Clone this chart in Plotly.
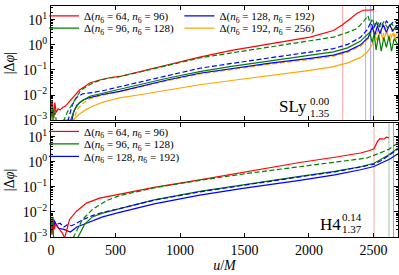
import plotly.graph_objects as go

# ---------------- data ----------------
# top panel: SLy  (|Δφ| versus u/M)
u_r1 = [0, 10, 20, 30, 40, 55, 70, 90, 110, 144, 182, 221, 260, 300, 377, 455, 532, 700, 900, 1153, 1400, 1700, 2008, 2190, 2260, 2318, 2370, 2419, 2450, 2500]
v_r1 = [3.16e-3, 6.31e-3, 1.26e-3, 5.01e-3, 2.0e-3, 2.82e-3, 2.51e-3, 3.16e-3, 3.55e-3, 5.62e-3, 8.71e-3, 1.58e-2, 2.14e-2, 3.02e-2, 3.98e-2, 4.9e-2, 5.5e-2, 8.9e-2, 0.158, 0.324, 0.603, 1.12, 2.04, 3.72, 6.31, 10.7, 17.8, 24.0, 25.0, 25.0]

u_g1d = [0, 10, 20, 30, 45, 100, 130, 160, 190, 230, 270, 320, 380, 450, 532, 700, 900, 1153, 1400, 1700, 2008, 2190, 2300, 2372, 2420, 2457, 2475, 2492, 2510, 2530, 2555, 2580, 2610, 2640, 2670, 2690]
v_g1d = [1.58e-3, 3.98e-3, 1.26e-3, 2.51e-3, 6.3e-4, 1.0e-3, 2.24e-3, 3.98e-3, 7.94e-3, 1.51e-2, 2.09e-2, 2.95e-2, 3.89e-2, 4.79e-2, 5.37e-2, 8.71e-2, 0.151, 0.302, 0.479, 0.832, 1.45, 2.04, 3.16, 4.47, 8.32, 14.5, 7.08, 11.2, 5.25, 8.91, 5.01, 8.32, 4.79, 7.08, 4.17, 6.03]

u_g1 = [0, 10, 20, 150, 180, 220, 300, 400, 532, 700, 900, 1153, 1400, 1700, 2008, 2190, 2300, 2400, 2450, 2470, 2490, 2505, 2520, 2540, 2560, 2580, 2600, 2620, 2640, 2660, 2690]
v_g1 = [1.26e-3, 3.16e-3, 5.0e-4, 8.9e-4, 2.51e-3, 5.01e-3, 8.91e-3, 1.17e-2, 1.7e-2, 2.69e-2, 4.68e-2, 8.51e-2, 0.138, 0.229, 0.38, 0.525, 0.759, 1.41, 2.51, 3.16, 1.26, 2.82, 0.631, 2.51, 0.562, 2.0, 0.794, 2.24, 0.562, 1.78, 1.0]

u_b1d = [130, 144, 167, 198, 244, 322, 400, 532, 700, 900, 1153, 1400, 1700, 2008, 2190, 2300, 2400, 2450, 2480, 2500, 2520, 2540, 2560, 2580, 2600, 2630, 2660, 2690]
v_b1d = [8.9e-4, 1.74e-3, 4.27e-3, 7.94e-3, 1.12e-2, 1.26e-2, 1.48e-2, 2.14e-2, 3.39e-2, 6.03e-2, 0.117, 0.182, 0.302, 0.513, 0.708, 1.05, 2.0, 3.98, 7.94, 4.17, 8.91, 4.79, 8.32, 5.25, 8.91, 6.03, 8.91, 7.08]

u_b1 = [160, 175, 200, 250, 300, 400, 532, 700, 900, 1153, 1400, 1700, 2008, 2190, 2300, 2400, 2460, 2490, 2510, 2530, 2550, 2575, 2600, 2625, 2650, 2675, 2690]
v_b1 = [8.9e-4, 2.0e-3, 3.98e-3, 6.31e-3, 7.94e-3, 1.05e-2, 1.41e-2, 2.24e-2, 3.98e-2, 7.41e-2, 0.112, 0.186, 0.288, 0.389, 0.562, 1.0, 2.0, 5.01, 2.51, 5.62, 2.82, 6.31, 3.16, 6.31, 3.55, 5.62, 3.98]

u_o1d = [0, 10, 170, 200, 240, 300, 400, 532, 700, 900, 1153, 1400, 1700, 2008, 2190, 2300, 2400, 2470, 2500, 2520, 2545, 2570, 2595, 2620, 2645, 2670, 2690]
v_o1d = [1.58e-3, 6.3e-4, 7.9e-4, 2.51e-3, 4.47e-3, 7.08e-3, 1.0e-2, 1.35e-2, 2.14e-2, 3.72e-2, 6.92e-2, 0.105, 0.17, 0.263, 0.355, 0.501, 0.891, 2.0, 5.62, 2.24, 6.31, 2.0, 5.01, 1.78, 4.47, 2.0, 3.55]

u_o1 = [0, 8, 15, 25, 100, 170, 221, 275, 322, 400, 478, 532, 700, 900, 1153, 1400, 1700, 2008, 2190, 2300, 2400, 2450, 2490, 2510, 2530, 2550, 2575, 2600, 2625, 2650, 2675, 2690]
v_o1 = [2.0e-3, 1.0e-3, 2.51e-3, 6.3e-4, 1.02e-3, 1.02e-3, 1.74e-3, 2.69e-3, 3.55e-3, 5.13e-3, 6.61e-3, 7.76e-3, 1.05e-2, 1.58e-2, 2.57e-2, 3.8e-2, 5.89e-2, 9.55e-2, 0.135, 0.191, 0.316, 0.501, 1.0, 2.51, 1.41, 3.55, 1.58, 3.16, 1.41, 2.82, 1.58, 2.24]

# bottom panel: H4
u_r2 = [0, 8, 15, 25, 35, 50, 70, 90, 105, 125, 144, 198, 275, 377, 532, 800, 1153, 1500, 1929, 2200, 2400, 2470, 2504, 2530, 2550, 2580, 2600, 2620]
v_r2 = [3.98e-3, 1.26e-3, 6.31e-3, 2.0e-3, 3.16e-3, 2.51e-3, 2.0e-3, 1.41e-3, 8.9e-4, 2.51e-3, 5.01e-3, 1.07e-2, 2.24e-2, 3.55e-2, 5.01e-2, 9.55e-2, 0.191, 0.398, 0.933, 1.51, 2.24, 2.82, 3.31, 6.31, 8.32, 7.94, 9.55, 8.91]

u_g2d = [0, 10, 20, 170, 244, 322, 431, 532, 800, 1153, 1500, 1929, 2200, 2450, 2550, 2620, 2690]
v_g2d = [2.51e-3, 6.31e-3, 7.9e-4, 8.9e-4, 5.01e-3, 1.26e-2, 2.82e-2, 4.47e-2, 9.12e-2, 0.182, 0.331, 0.631, 0.955, 1.41, 2.24, 3.16, 5.62]

u_g2 = [0, 8, 16, 25, 200, 260, 320, 400, 532, 800, 1153, 1500, 1929, 2200, 2400, 2504, 2560, 2620, 2690]
v_g2 = [1.26e-3, 5.01e-3, 1.58e-3, 6.3e-4, 7.9e-4, 3.16e-3, 6.31e-3, 8.91e-3, 1.35e-2, 3.02e-2, 6.61e-2, 0.126, 0.263, 0.417, 0.631, 0.871, 1.26, 1.91, 3.55]

u_b2d = [0, 10, 20, 40, 70, 100, 130, 160, 200, 250, 320, 400, 532, 800, 1153, 1500, 1929, 2200, 2400, 2504, 2560, 2620, 2690]
v_b2d = [3.98e-3, 1.58e-3, 5.01e-3, 3.16e-3, 3.55e-3, 2.51e-3, 3.16e-3, 2.82e-3, 3.55e-3, 5.01e-3, 7.08e-3, 9.55e-3, 1.35e-2, 2.95e-2, 6.31e-2, 0.12, 0.251, 0.398, 0.603, 0.794, 1.12, 1.78, 3.16]

u_b2 = [0, 10, 20, 30, 60, 100, 150, 200, 250, 320, 400, 532, 800, 1153, 1500, 1929, 2200, 2400, 2504, 2560, 2620, 2690]
v_b2 = [2.51e-3, 5.01e-3, 2.0e-3, 3.98e-3, 2.24e-3, 2.0e-3, 1.58e-3, 2.51e-3, 3.16e-3, 4.47e-3, 6.31e-3, 9.55e-3, 2.09e-2, 4.68e-2, 8.91e-2, 0.182, 0.302, 0.479, 0.646, 0.891, 1.23, 2.09]

# vertical marker lines (u/M)
vline_top_u = [2261, 2439, 2478, 2500]
vline_bot_u = [2504, 2620, 2655]

labels = ["Δ(<i>n</i><sub>6</sub> = 64, <i>n</i><sub>6</sub> = 96)",
          "Δ(<i>n</i><sub>6</sub> = 96, <i>n</i><sub>6</sub> = 128)",
          "Δ(<i>n</i><sub>6</sub> = 128, <i>n</i><sub>6</sub> = 192)",
          "Δ(<i>n</i><sub>6</sub> = 192, <i>n</i><sub>6</sub> = 256)"]

x_ticks = [0, 500, 1000, 1500, 2000, 2500]
y_ticks = [1e-3, 1e-2, 1e-1, 1e0, 1e1]
y_ticktext = ["10<sup>−3</sup>", "10<sup>−2</sup>", "10<sup>−1</sup>", "10<sup>0</sup>", "10<sup>1</sup>"]

# ---------------- styling ----------------
RED, GREEN, BLUE, ORANGE = "#ff0000", "#008000", "#0000ff", "#ffa500"
LW = 1.2
DASH = "5px,2.5px"
FONT = "Liberation Serif"

fig = go.Figure()

def add(u, v, color, dash, xa, ya, name=None, legend=None):
    fig.add_trace(go.Scatter(
        x=u, y=v, mode="lines", xaxis=xa, yaxis=ya,
        line=dict(color=color, width=LW, dash=dash),
        name=name if name else "", showlegend=name is not None,
        legend=legend if legend else "legend", hoverinfo="skip"))

# top panel (legend entries: legend=red, legend2=green, legend3=blue, legend4=orange)
add(u_o1, v_o1, ORANGE, "solid", "x", "y", labels[3], "legend4")
add(u_o1d, v_o1d, ORANGE, DASH, "x", "y")
add(u_b1, v_b1, BLUE, "solid", "x", "y", labels[2], "legend3")
add(u_g1, v_g1, GREEN, "solid", "x", "y", labels[1], "legend2")
add(u_b1d, v_b1d, BLUE, DASH, "x", "y")
add(u_r1, v_r1, RED, "solid", "x", "y", labels[0], "legend")
add(u_g1d, v_g1d, GREEN, DASH, "x", "y")

# bottom panel (legend5=red, legend6=green, legend7=blue)
add(u_b2, v_b2, BLUE, "solid", "x2", "y2", labels[2], "legend7")
add(u_g2, v_g2, GREEN, "solid", "x2", "y2", labels[1], "legend6")
add(u_b2d, v_b2d, BLUE, DASH, "x2", "y2")
add(u_r2, v_r2, RED, "solid", "x2", "y2", labels[0], "legend5")
add(u_g2d, v_g2d, GREEN, DASH, "x2", "y2")

vcols_top = ["rgba(255,0,0,0.35)", "rgba(0,128,0,0.4)", "rgba(0,0,255,0.4)", "rgba(110,110,110,0.6)"]
vcols_bot = ["rgba(255,0,0,0.35)", "rgba(0,128,0,0.4)", "rgba(0,0,255,0.4)"]
shapes = []
for u, c in zip(vline_top_u, vcols_top):
    shapes.append(dict(type="line", xref="x", yref="y domain", x0=u, x1=u, y0=0, y1=1,
                       line=dict(color=c, width=1), layer="below"))
for u, c in zip(vline_bot_u, vcols_bot):
    shapes.append(dict(type="line", xref="x2", yref="y2 domain", x0=u, x1=u, y0=0, y1=1,
                       line=dict(color=c, width=1), layer="below"))

minor_vals = [m * 10.0 ** e for e in range(-4, 2) for m in range(2, 10)]

xcommon = dict(range=[0, 2690], tickvals=x_ticks, ticks="inside", ticklen=4, tickwidth=0.8,
               tickcolor="black", showline=True, linecolor="black", linewidth=1, mirror="ticks",
               showgrid=False, zeroline=False, domain=[0, 1], automargin=False)
ycommon = dict(type="log", range=[-3, 1.55], tickvals=y_ticks, ticktext=y_ticktext,
               ticks="inside", ticklen=4, tickwidth=0.8, tickcolor="black",
               showline=True, linecolor="black", linewidth=1, mirror="ticks",
               showgrid=False, zeroline=False, automargin=False,
               minor=dict(tickvals=minor_vals, ticks="inside", ticklen=2, tickwidth=0.6,
                          tickcolor="black", showgrid=False),
               title=dict(text="|Δ<i>φ</i>|", standoff=4, font=dict(size=14)))

def leg(x, y):
    return dict(orientation="h", x=x, y=y, xanchor="left", yanchor="middle",
                itemwidth=30, bgcolor="rgba(0,0,0,0)", font=dict(size=11))

COL1, COL2 = -0.02, 0.37
fig.update_layout(
    width=399, height=275,
    margin=dict(l=51, r=1, t=2, b=38),
    paper_bgcolor="white", plot_bgcolor="white",
    font=dict(family=FONT, size=14, color="black"),
    xaxis=dict(xcommon, anchor="y", showticklabels=False, matches="x2"),
    xaxis2=dict(xcommon, anchor="y2",
                title=dict(text="<i>u</i>/<i>M</i>", standoff=2, font=dict(size=14))),
    yaxis=dict(ycommon, domain=[0.506, 1], anchor="x"),
    yaxis2=dict(ycommon, domain=[0, 0.494], anchor="x2"),
    legend=leg(COL1, 0.957),
    legend2=leg(COL1, 0.904),
    legend3=leg(COL2, 0.957),
    legend4=leg(COL2, 0.904),
    legend5=leg(COL1, 0.457),
    legend6=leg(COL1, 0.403),
    legend7=leg(COL1, 0.349),
    shapes=shapes,
    showlegend=True,
)

ann = [
    dict(text="SLy", xref="x domain", yref="y domain", x=0.696, y=0.12, font=dict(size=17)),
    dict(text="0.00", xref="x domain", yref="y domain", x=0.775, y=0.165, font=dict(size=11)),
    dict(text="1.35", xref="x domain", yref="y domain", x=0.775, y=0.06, font=dict(size=11)),
    dict(text="H4", xref="x2 domain", yref="y2 domain", x=0.805, y=0.112, font=dict(size=17)),
    dict(text="0.14", xref="x2 domain", yref="y2 domain", x=0.868, y=0.172, font=dict(size=11)),
    dict(text="1.37", xref="x2 domain", yref="y2 domain", x=0.868, y=0.07, font=dict(size=11)),
]
for a in ann:
    a.update(showarrow=False, xanchor="center", yanchor="middle")
fig.update_layout(annotations=ann)

fig.write_html("out.html", config={"displayModeBar": False},
               post_script="document.body.style.margin='0';document.body.style.padding='0';")
